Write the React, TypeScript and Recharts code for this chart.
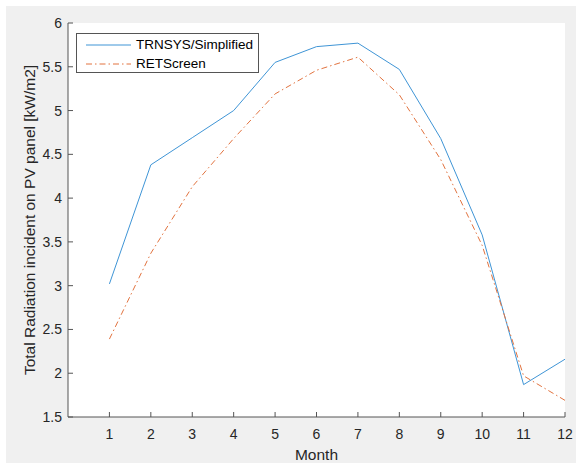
import { LineChart, Line, XAxis, YAxis, CartesianGrid, Legend, Label } from 'recharts'

const months = [1, 2, 3, 4, 5, 6, 7, 8, 9, 10, 11, 12]
const trnsys = [3.02, 4.38, 4.69, 5.0, 5.55, 5.73, 5.77, 5.47, 4.68, 3.58, 1.87, 2.16]
const retscreen = [2.39, 3.37, 4.13, 4.68, 5.19, 5.46, 5.61, 5.18, 4.44, 3.46, 1.97, 1.69]
const seriesNames = ['TRNSYS/Simplified', 'RETScreen']
const xTicks = [1, 2, 3, 4, 5, 6, 7, 8, 9, 10, 11, 12]
const yTicks = [1.5, 2, 2.5, 3, 3.5, 4, 4.5, 5, 5.5, 6]

const data = months.map((m, i) => ({ month: m, trnsys: trnsys[i], retscreen: retscreen[i] }))

const font = '"Liberation Sans", Arial, sans-serif'
const axisColor = '#555555'
const textColor = '#262626'
const tickStyle = { fill: textColor, fontSize: 14, fontFamily: font }

function LegendBox({ payload }: any) {
  const items = [...(payload || [])].sort(
    (a: any, b: any) => seriesNames.indexOf(a.value) - seriesNames.indexOf(b.value),
  )
  return (
    <div
      style={{
        width: 183,
        height: 40,
        boxSizing: 'border-box',
        border: `1px solid ${axisColor}`,
        background: '#fff',
        fontFamily: font,
        fontSize: 13.5,
        color: '#000',
        paddingTop: 1,
      }}
    >
      {items.map((entry: any) => (
        <div key={entry.value} style={{ display: 'flex', alignItems: 'center', height: 19 }}>
          <svg width={59} height={10} style={{ flex: 'none' }}>
            <line
              x1={9}
              x2={54}
              y1={5}
              y2={5}
              stroke={entry.color}
              strokeWidth={1}
              strokeDasharray={entry.payload?.strokeDasharray}
            />
          </svg>
          <span>{entry.value}</span>
        </div>
      ))}
    </div>
  )
}

export default function App() {
  return (
    <div style={{ position: 'absolute', left: 6, top: 6, width: 570, height: 457, background: '#f0f0f0' }}>
      <LineChart
        width={570}
        height={457}
        data={data}
        margin={{ top: 17, right: 11, bottom: 0, left: 0 }}
      >
        <CartesianGrid fill="#fff" horizontal={false} vertical={false} />
        <XAxis
          dataKey="month"
          type="number"
          domain={[0, 12]}
          ticks={xTicks}
          height={46}
          stroke={axisColor}
          tickSize={-5}
          tickMargin={17}
          tick={tickStyle}
        >
          <Label value="Month" position="insideBottom" offset={3} fill={textColor} fontSize={15.5} fontFamily={font} />
        </XAxis>
        <XAxis
          xAxisId="top"
          orientation="top"
          dataKey="month"
          type="number"
          domain={[0, 12]}
          ticks={xTicks}
          height={0}
          stroke={axisColor}
          tickSize={-5}
          tickFormatter={() => ''}
        />
        <YAxis
          type="number"
          domain={[1.5, 6]}
          ticks={yTicks}
          width={62}
          stroke={axisColor}
          tickSize={-5}
          tickMargin={11}
          tick={tickStyle}
        >
          <Label
            value="Total Radiation incident on PV panel [kW/m2]"
            position="center"
            angle={-90}
            dx={-8}
            fill={textColor}
            fontSize={15.5}
            fontFamily={font}
          />
        </YAxis>
        <YAxis
          yAxisId="right"
          orientation="right"
          type="number"
          domain={[1.5, 6]}
          ticks={yTicks}
          width={0}
          stroke={axisColor}
          tickSize={-5}
          tickFormatter={() => ''}
        />
        <Legend
          layout="vertical"
          align="center"
          verticalAlign="middle"
          wrapperStyle={{ left: 70, top: 27, width: 183, height: 40 }}
          content={LegendBox}
        />
        <Line
          dataKey="trnsys"
          name={seriesNames[0]}
          stroke="#3f95d6"
          strokeWidth={1}
          dot={false}
          isAnimationActive={false}
        />
        <Line
          dataKey="retscreen"
          name={seriesNames[1]}
          stroke="#e2733f"
          strokeWidth={1}
          strokeDasharray="6 3 1.5 3"
          dot={false}
          isAnimationActive={false}
        />
      </LineChart>
    </div>
  )
}
